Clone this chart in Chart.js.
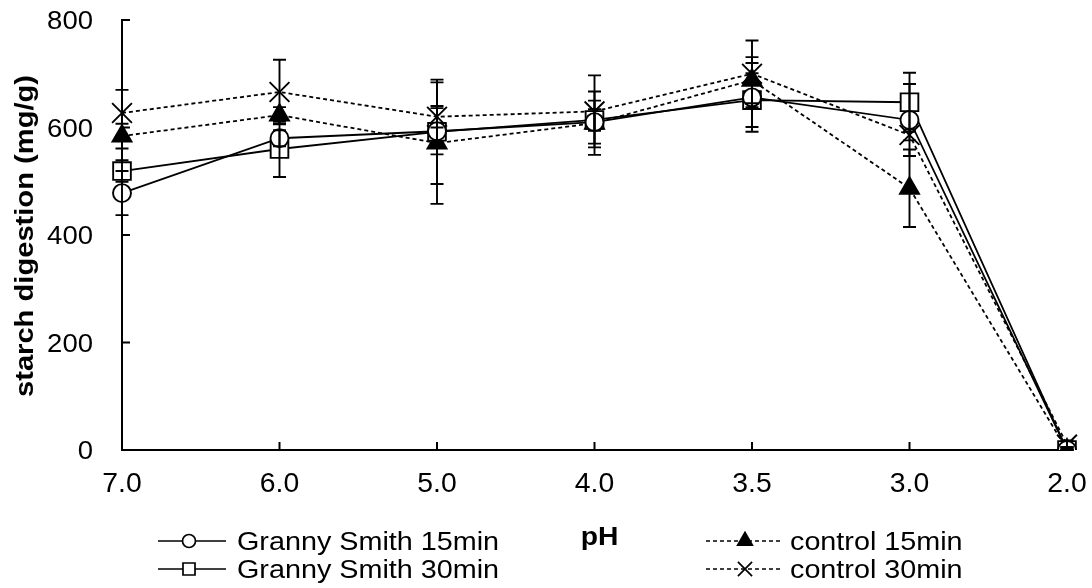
<!DOCTYPE html>
<html><head><meta charset="utf-8">
<script src="https://cdn.jsdelivr.net/npm/chart.js@4/dist/chart.umd.min.js"></script>
<style>html,body{margin:0;padding:0;background:#fff;overflow:hidden}#wrap{width:1092px;height:588px}</style>
</head><body><div id="wrap"><canvas id="c" width="1092" height="588"></canvas></div>
<script>
const phLabels = ['7.0','6.0','5.0','4.0','3.5','3.0','2.0'];
const gs15 = [478, 580, 593, 610, 656, 614, 0];
const gs15Err = [41, 15, 43, 40, 64, 67, 5];
const gs30 = [519, 560, 592, 614, 651, 647, 0];
const gs30Err = [20, 52, 97, 20, 50, 55, 5];
const ctl15 = [584, 623, 571, 608, 688, 487, 0];
const ctl15Err = [23, 15, 113, 59, 43, 72, 5];
const ctl30 = [627, 666, 620, 630, 700, 586, 10];
const ctl30Err = [43, 60, 20, 67, 62, 10, 8];
const yTickValues = [0, 200, 400, 600, 800];
const seriesNames = ['Granny Smith 15min','Granny Smith 30min','control 15min','control 30min'];
const xTitle = 'pH';
const yTitle = 'starch digestion (mg/g)';

const FONT = "'Liberation Sans', Arial, sans-serif";

function sText(ctx, text, x, y, opt){
  ctx.save();
  ctx.translate(x, y);
  if (opt.rot) ctx.rotate(opt.rot);
  ctx.scale(opt.sx || 1, 1);
  ctx.font = opt.font;
  ctx.fillStyle = '#000';
  ctx.textAlign = opt.align || 'left';
  ctx.textBaseline = opt.baseline || 'alphabetic';
  ctx.fillText(text, 0, 0);
  ctx.restore();
}

function drawMarker(ctx, style, x, y, r){
  ctx.save();
  ctx.setLineDash([]);
  ctx.lineWidth = 1.7;
  ctx.strokeStyle = '#000';
  ctx.beginPath();
  if (style==='circle'){ ctx.arc(x,y,r,0,Math.PI*2); ctx.fillStyle='#fff'; ctx.fill(); ctx.stroke(); }
  else if (style==='rect'){ const s=r*Math.SQRT1_2; ctx.rect(x-s,y-s,2*s,2*s); ctx.fillStyle='#fff'; ctx.fill(); ctx.stroke(); }
  else if (style==='triangle'){ ctx.moveTo(x, y-r); ctx.lineTo(x+r*0.866, y+r*0.5); ctx.lineTo(x-r*0.866, y+r*0.5); ctx.closePath(); ctx.fillStyle='#000'; ctx.fill(); ctx.stroke(); }
  else if (style==='crossRot'){ const d=r*Math.SQRT1_2; ctx.moveTo(x-d,y-d); ctx.lineTo(x+d,y+d); ctx.moveTo(x+d,y-d); ctx.lineTo(x-d,y+d); ctx.stroke(); }
  ctx.restore();
}

const extrasPlugin = {
  id: 'extras',
  afterDatasetsDraw(chart){
    const ctx = chart.ctx, xs = chart.scales.x, ys = chart.scales.y;
    ctx.save();
    ctx.strokeStyle = '#000'; ctx.lineWidth = 1.9; ctx.setLineDash([]);
    chart.data.datasets.forEach(ds => {
      ds.data.forEach((v, j) => {
        const e = ds.errors[j];
        const px = xs.getPixelForValue(j);
        const top = ys.getPixelForValue(v + e), bot = ys.getPixelForValue(Math.max(0, v - e));
        ctx.beginPath();
        ctx.moveTo(px, top); ctx.lineTo(px, bot);
        ctx.moveTo(px-6.5, top); ctx.lineTo(px+6.5, top);
        ctx.moveTo(px-6.5, bot); ctx.lineTo(px+6.5, bot);
        ctx.stroke();
      });
    });
    ctx.restore();
  },
  afterDraw(chart){
    const ctx = chart.ctx, xs = chart.scales.x, ys = chart.scales.y;
    ctx.save();
    ctx.strokeStyle = '#000'; ctx.lineWidth = 2; ctx.setLineDash([]);
    ctx.beginPath();
    yTickValues.forEach(v => { const py = ys.getPixelForValue(v); ctx.moveTo(xs.left, py); ctx.lineTo(xs.left+8, py); });
    phLabels.forEach((t,i) => { const px = xs.getPixelForValue(i); ctx.moveTo(px, ys.bottom); ctx.lineTo(px, ys.bottom-8); });
    ctx.stroke();
    ctx.restore();
    // tick labels
    yTickValues.forEach(v => sText(ctx, String(v), 93, ys.getPixelForValue(v) + 9, {font:'25px ' + FONT, align:'right', sx:1.1}));
    phLabels.forEach((t,i) => sText(ctx, t, xs.getPixelForValue(i), 492, {font:'27px ' + FONT, align:'center', sx:1.05}));
    // axis titles
    sText(ctx, xTitle, (xs.left + xs.right)/2 + 5, 545, {font:'bold 25px ' + FONT, align:'center', sx:1.13});
    sText(ctx, yTitle, 26, (ys.top + ys.bottom)/2 + 1, {font:'bold 25px ' + FONT, align:'center', baseline:'middle', rot:-Math.PI/2, sx:1.165});
    // legend
    const items = [
      {ds:0, x:158, y:541, tx:237, len:68, mx:189}, {ds:1, x:158, y:569, tx:237, len:68, mx:189},
      {ds:2, x:706, y:541, tx:790, len:75, mx:745}, {ds:3, x:706, y:569, tx:790, len:75, mx:745}
    ];
    const lr = {circle:6.5, rect:8.5, triangle:8.5, crossRot:10};
    items.forEach(it => {
      const ds = chart.data.datasets[it.ds];
      ctx.save();
      ctx.lineWidth = 1.5; ctx.strokeStyle = '#000';
      ctx.setLineDash(ds.borderDash || []);
      ctx.beginPath(); ctx.moveTo(it.x, it.y); ctx.lineTo(it.x+it.len, it.y); ctx.stroke();
      ctx.restore();
      drawMarker(ctx, ds.pointStyle, it.mx, it.y, lr[ds.pointStyle]);
      sText(ctx, ds.label, it.tx, it.y + 9, {font:'25px ' + FONT, sx:1.15});
    });
  }
};

function mkDs(label, data, errors, style, radius, dashed){
  return {
    label, data, errors,
    borderColor:'#000', borderWidth:1.8, borderDash: dashed ? [4,3] : [],
    pointStyle: style, pointRadius: radius, pointHoverRadius: radius,
    pointBackgroundColor: style==='triangle' ? '#000' : '#fff',
    pointBorderColor:'#000', pointBorderWidth:1.9,
    tension:0, fill:false
  };
}

new Chart(document.getElementById('c'), {
  type:'line',
  data:{
    labels: phLabels,
    datasets:[
      mkDs(seriesNames[0], gs15, gs15Err, 'circle', 9, false),
      mkDs(seriesNames[1], gs30, gs30Err, 'rect', 12.5, false),
      mkDs(seriesNames[2], ctl15, ctl15Err, 'triangle', 11, true),
      mkDs(seriesNames[3], ctl30, ctl30Err, 'crossRot', 14, true)
    ]
  },
  options:{
    responsive:false, animation:false, devicePixelRatio:1,
    layout:{padding:{left:0,right:25,top:20,bottom:0}},
    plugins:{legend:{display:false}, tooltip:{enabled:false}},
    scales:{
      x:{
        type:'category', offset:false,
        grid:{display:false},
        border:{display:true, color:'#000', width:2},
        ticks:{display:false},
        title:{display:false},
        afterFit(s){ s.height = 138; }
      },
      y:{
        min:0, max:800,
        grid:{display:false},
        border:{display:true, color:'#000', width:2},
        ticks:{display:false, stepSize:200},
        title:{display:false},
        afterFit(s){ s.width = 122; }
      }
    }
  },
  plugins:[extrasPlugin]
});
</script></body></html>
